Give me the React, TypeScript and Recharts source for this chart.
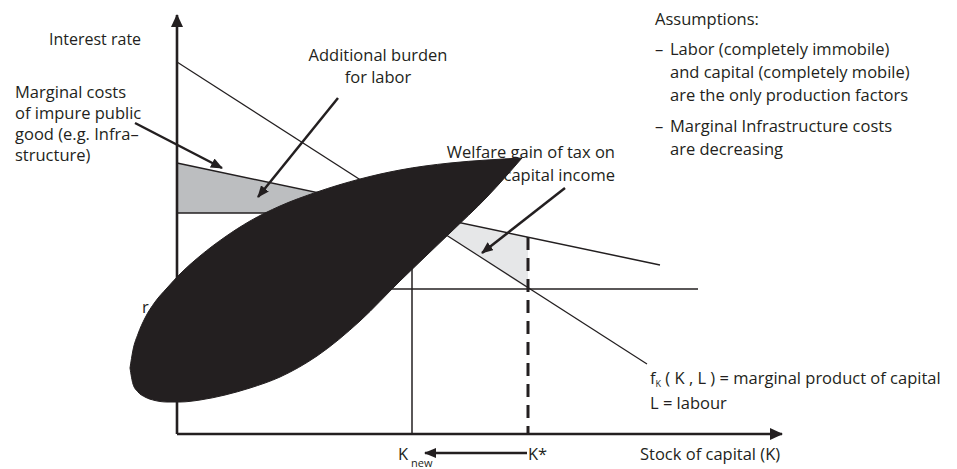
import { ComposedChart, XAxis, YAxis, Line, Area } from "recharts";

const INK = "#231f20";

// arbitrary units: x = stock of capital, y = interest rate
const marginalProduct = [
  { x: 0, y: 37.2 },
  { x: 47, y: 7.0 },
];
const marginalCost = [
  { x: 0, y: 27.1 },
  { x: 48.3, y: 16.9 },
];
const interestRate = [
  { x: 0, y: 14.5 },
  { x: 52.1, y: 14.5 },
];
const kNewLevel = [
  { x: 0, y: 22.1 },
  { x: 23.5, y: 22.1 },
];
const kNewDrop = [
  { x: 23.5, y: 22.1 },
  { x: 23.5, y: 0 },
];
const kStarDrop = [
  { x: 35.1, y: 19.7 },
  { x: 35.1, y: 0 },
];
const laborBurden = [
  { x: 0, band: [22.1, 27.1] },
  { x: 23.5, band: [22.1, 22.1] },
];
const welfareGain = [
  { x: 23.5, band: [22.1, 22.1] },
  { x: 35.1, band: [14.5, 19.7] },
];

// the black blot over the middle of the figure (outline)
const blobX = [-4.7, -4.4, -3.9, -3.2, -2.2, -1.0, 0.3, 2.3, 4.8, 7.3, 10.3, 14.0, 18.3, 22.3, 27.3, 31.0, 34.5];
const blobTop = [6.6, 8.4, 10.0, 11.6, 13.2, 14.6, 16.0, 17.8, 19.7, 21.3, 22.8, 24.2, 25.5, 26.4, 27.1, 27.4, 27.6];
const blobBottom = [6.6, 5.0, 4.2, 3.7, 3.35, 3.2, 3.2, 3.4, 3.9, 4.6, 5.7, 7.8, 11.3, 15.3, 20.1, 23.7, 27.6];
const blob = blobX.map((x, i) => ({ x, band: [blobBottom[i], blobTop[i]] }));

// axes and pointer arrows
const yAxisLine = [
  { x: 0, y: 0 },
  { x: 0, y: 41.9 },
];
const xAxisLine = [
  { x: 0, y: 0 },
  { x: 60.5, y: 0 },
];
const costPointer = [
  { x: -4.2, y: 31.1 },
  { x: 4.5, y: 26.6 },
];
const burdenPointer = [
  { x: 16.1, y: 33.6 },
  { x: 8.1, y: 23.7 },
];
const welfarePointer = [
  { x: 38.8, y: 24.6 },
  { x: 30.5, y: 18.1 },
];
const shiftPointer = [
  { x: 35.0, y: -1.9 },
  { x: 24.8, y: -1.9 },
];

const assumptions = [
  "Labor (completely immobile)",
  "and capital (completely mobile)",
  "are the only production factors",
  "Marginal Infrastructure costs",
  "are decreasing",
];
const costLabel = ["Marginal costs", "of impure public", "good (e.g. Infra–", "structure)"];

const font = "'Open Sans', sans-serif";

const seg = (data: { x: number; y: number }[], width: number, extra: any = {}) => (
  <Line
    data={data}
    dataKey="y"
    type="linear"
    stroke={INK}
    strokeWidth={width}
    dot={false}
    activeDot={false}
    legendType="none"
    isAnimationActive={false}
    {...extra}
  />
);

export default function App() {
  return (
    <div style={{ position: "absolute", left: 0, top: 0, width: 957, height: 469 }}>
      <svg width={0} height={0} style={{ position: "absolute" }}>
        <defs>
          <marker id="head" viewBox="0 0 12 10" refX="11" refY="5" markerWidth="12" markerHeight="10" orient="auto" markerUnits="userSpaceOnUse">
            <path d="M0,0 L12,5 L0,10 z" fill={INK} />
          </marker>
          <marker id="axisHead" viewBox="0 0 13 12" refX="12" refY="6" markerWidth="13" markerHeight="12" orient="auto" markerUnits="userSpaceOnUse">
            <path d="M0,0 L13,6 L0,12 z" fill={INK} />
          </marker>
        </defs>
      </svg>
      <ComposedChart width={957} height={469} margin={{ top: 0, right: 0, bottom: 0, left: 0 }}>
        <XAxis type="number" dataKey="x" domain={[-17.7, 78]} hide allowDataOverflow />
        <YAxis type="number" domain={[-3.5, 43.4]} hide allowDataOverflow />
        <Area data={laborBurden} dataKey="band" type="linear" fill="#bcbec0" fillOpacity={1} stroke="none" dot={false} activeDot={false} isAnimationActive={false} />
        <Area data={welfareGain} dataKey="band" type="linear" fill="#e6e7e8" fillOpacity={1} stroke="none" dot={false} activeDot={false} isAnimationActive={false} />
        {seg(marginalProduct, 1.2)}
        {seg(marginalCost, 1.5)}
        {seg(interestRate, 1.5)}
        {seg(kNewLevel, 1.5)}
        {seg(kNewDrop, 1.5)}
        {seg(kStarDrop, 3, { strokeDasharray: "13 8" })}
        {seg(yAxisLine, 2.6, { markerEnd: "url(#axisHead)" })}
        {seg(xAxisLine, 2.6, { markerEnd: "url(#axisHead)" })}
        {seg(costPointer, 2.5, { markerEnd: "url(#head)" })}
        {seg(burdenPointer, 2.5, { markerEnd: "url(#head)" })}
        {seg(welfarePointer, 2.5, { markerEnd: "url(#head)" })}
        {seg(shiftPointer, 2.5, { markerEnd: "url(#head)" })}
        <Area
          data={blob}
          dataKey="band"
          type="monotone"
          fill={INK}
          fillOpacity={1}
          stroke={INK}
          strokeWidth={1}
          dot={false}
          activeDot={false}
          zIndex={900}
          isAnimationActive={false}
        />
      </ComposedChart>
      <svg
        width={957}
        height={469}
        style={{ position: "absolute", left: 0, top: 0, pointerEvents: "none", whiteSpace: "pre" }}
        fontFamily={font}
        fontSize={16.5}
        fill={INK}
      >
        <text x={49} y={45} fontSize={16}>Interest rate</text>
        {costLabel.map((t, i) => (
          <text key={t} x={15} y={98 + i * 21}>{t}</text>
        ))}
        <text x={378} y={61} textAnchor="middle">Additional burden</text>
        <text x={378} y={83} textAnchor="middle">for labor</text>
        <text x={615} y={158} textAnchor="end">Welfare gain of tax on</text>
        <text x={615} y={181} textAnchor="end">capital income</text>
        <text x={655} y={25}>Assumptions:</text>
        <text x={655} y={55}>–</text>
        <text x={655} y={132}>–</text>
        {assumptions.map((t, i) => (
          <text key={t} x={670} y={[55, 78, 101, 132, 155][i]}>{t}</text>
        ))}
        <text x={142} y={313}>r</text>
        <text x={650} y={384}>
          f<tspan fontSize={9} dy={3}>K</tspan>
          <tspan dy={-3}> ( K , L ) = marginal product  of capital</tspan>
        </text>
        <text x={650} y={409}>L = labour</text>
        <text x={398} y={460}>K</text>
        <text x={411} y={467} fontSize={11}>new</text>
        <text x={528} y={460}>K*</text>
        <text x={640} y={460}>Stock of capital (K)</text>
      </svg>
    </div>
  );
}
